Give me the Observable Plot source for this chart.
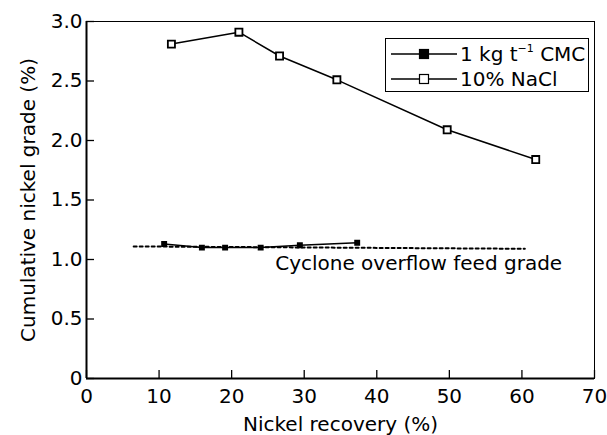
<!DOCTYPE html>
<html><head><meta charset="utf-8">
<script src="https://cdn.jsdelivr.net/npm/d3@7"></script>
<script src="https://cdn.jsdelivr.net/npm/@observablehq/plot@0.6"></script>
<style>
body{margin:0;background:#fff;}
#wrap{position:relative;width:607px;height:435px;font-family:"DejaVu Sans",sans-serif;color:#000;}
#legend{position:absolute;left:385px;top:38px;width:204px;height:54px;border:1.2px solid #000;box-sizing:border-box;background:#fff;font-size:20px;}
.row{position:absolute;left:0;height:24px;display:flex;align-items:center;white-space:nowrap;}
.row svg{display:block;margin-left:5px;margin-right:3px;}
sup{font-size:11px;vertical-align:9px;line-height:0;}
</style>
</head><body>
<div id="wrap"><div id="legend"></div></div>
<script>
// Data
const cmcRecovery = [10.7, 15.9, 19.1, 24.0, 29.4, 37.3];
const cmcGrade    = [1.13, 1.10, 1.10, 1.10, 1.12, 1.14];
const naclRecovery = [11.7, 21.0, 26.6, 34.5, 49.7, 61.9];
const naclGrade    = [2.81, 2.91, 2.71, 2.51, 2.09, 1.84];
const feedRecovery = [6.5, 60.4];
const feedGrade    = [1.11, 1.09];
const feedLabel = "Cyclone overflow feed grade";
const feedLabelPos = {x: 26.0, y: 0.91};
const xTicks = [0, 10, 20, 30, 40, 50, 60, 70];
const yTicks = [0, 0.5, 1.0, 1.5, 2.0, 2.5, 3.0];
const seriesNames = ["1 kg t<sup>−1</sup> CMC", "10% NaCl"];

const cmc = cmcRecovery.map((x, i) => ({x, y: cmcGrade[i]}));
const nacl = naclRecovery.map((x, i) => ({x, y: naclGrade[i]}));
const feed = feedRecovery.map((x, i) => ({x, y: feedGrade[i]}));

const chart = Plot.plot({
  width: 607, height: 435,
  marginLeft: 86, marginRight: 13, marginTop: 21, marginBottom: 57,
  style: {fontFamily: "DejaVu Sans", fontSize: "20px", background: "white", color: "black"},
  x: {domain: [0, 70]},
  y: {domain: [0, 3]},
  marks: [
    Plot.frame({stroke: "black", strokeWidth: 1}),
    Plot.ruleY([0], {stroke: "black", strokeWidth: 2}),
    Plot.ruleX([0], {stroke: "black", strokeWidth: 2}),
    Plot.axisX(xTicks, {tickSize: 0, tickPadding: 10, tickFormat: d => String(d), fontSize: 20,
      label: "Nickel recovery (%)", labelAnchor: "center", labelOffset: 52, labelArrow: false}),
    Plot.axisX(xTicks, {tickSize: 8, dy: -8, tickFormat: () => "", label: null, strokeWidth: 1.3}),
    Plot.axisY(yTicks, {tickSize: 0, tickPadding: 4, tickFormat: d => d === 0 ? "0" : d.toFixed(1), fontSize: 20,
      label: "Cumulative nickel grade (%)", labelAnchor: "center", labelOffset: 66, labelArrow: false}),
    Plot.axisY(yTicks, {tickSize: 8, dx: 8, tickFormat: () => "", label: null, strokeWidth: 1.3}),
    Plot.line(feed, {x: "x", y: "y", stroke: "black", strokeWidth: 2, strokeDasharray: "3,3"}),
    Plot.line(cmc, {x: "x", y: "y", stroke: "black", strokeWidth: 1.5}),
    Plot.dot(cmc, {x: "x", y: "y", symbol: "square", r: 2.5, fill: "black", stroke: "black"}),
    Plot.line(nacl, {x: "x", y: "y", stroke: "black", strokeWidth: 1.5}),
    Plot.dot(nacl, {x: "x", y: "y", symbol: "square", r: 4, fill: "white", stroke: "black", strokeWidth: 1.8}),
    Plot.text([feedLabelPos], {x: "x", y: "y", text: () => feedLabel, textAnchor: "start", lineAnchor: "bottom", fontSize: 20, fill: "black"})
  ]
});
const wrap = document.getElementById("wrap");
wrap.insertBefore(chart, wrap.firstChild);

const legend = document.getElementById("legend");
seriesNames.forEach((name, i) => {
  const row = document.createElement("div");
  row.className = "row";
  row.style.top = (i === 0 ? 3 : 28) + "px";
  const filled = i === 0;
  const s = 9;
  row.innerHTML = `<svg width="66" height="20"><line x1="0" y1="10" x2="66" y2="10" stroke="black" stroke-width="1.4"/>` +
    `<rect x="${33 - s/2}" y="${10 - s/2}" width="${s}" height="${s}" fill="${filled ? "black" : "white"}" stroke="black" stroke-width="1.2"/></svg>` +
    `<span>${name}</span>`;
  legend.appendChild(row);
});
</script>
</body></html>
